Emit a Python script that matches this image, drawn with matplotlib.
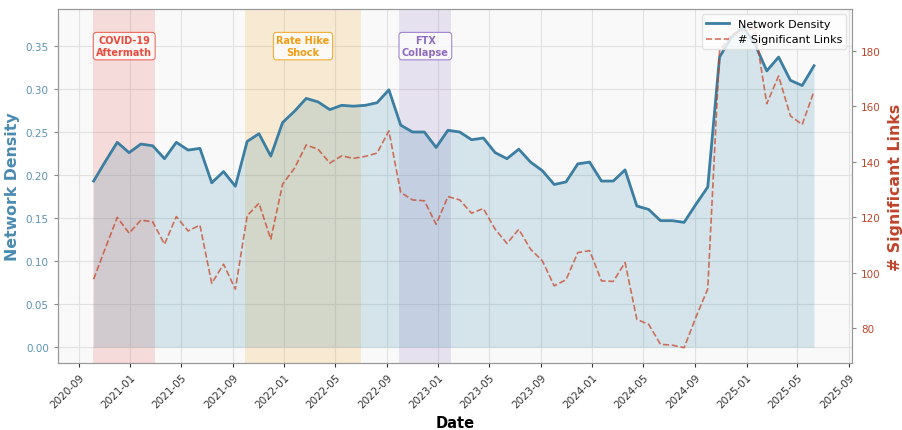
import numpy as np
import pandas as pd
import matplotlib
matplotlib.use("Agg")
import matplotlib.pyplot as plt
import matplotlib.dates as mdates

# 28-day windows
dates = pd.date_range("2020-10-06", periods=62, freq="28D")

density = [
    0.193, 0.216, 0.238, 0.226, 0.236, 0.234, 0.219, 0.238, 0.229, 0.231,
    0.191, 0.204, 0.187, 0.239, 0.248, 0.222, 0.261, 0.274, 0.289, 0.285,
    0.276, 0.281, 0.280, 0.281, 0.284, 0.299, 0.258, 0.250, 0.250, 0.232,
    0.252, 0.250, 0.241, 0.243, 0.226, 0.219, 0.230, 0.215, 0.205, 0.189,
    0.192, 0.213, 0.215, 0.193, 0.193, 0.206, 0.164, 0.160, 0.147, 0.147,
    0.145, 0.166, 0.186, 0.337, 0.360, 0.372, 0.352, 0.321, 0.337, 0.310,
    0.304, 0.327,
]
links = [
    97.7, 109.0, 120.0, 114.3, 119.0, 118.4, 110.3, 120.3, 115.1, 117.2,
    96.2, 103.1, 94.1, 120.6, 125.1, 112.1, 132.0, 137.7, 146.1, 144.6,
    139.6, 142.2, 141.3, 142.0, 143.2, 151.2, 129.0, 126.3, 126.0, 117.5,
    127.5, 126.3, 121.5, 123.2, 115.7, 110.6, 115.7, 108.5, 104.3, 95.3,
    97.5, 107.3, 108.0, 97.1, 96.9, 103.7, 83.2, 81.4, 74.2, 73.9,
    73.0, 84.0, 94.2, 180.0, 186.0, 187.5, 188.0, 161.0, 171.0, 156.6,
    153.5, 165.5,
]

event_labels = ["COVID-19\nAftermath", "Rate Hike\nShock", "FTX\nCollapse"]
event_starts = ["2020-10-05", "2021-10-01", "2022-10-01"]
event_ends = ["2021-03-01", "2022-07-01", "2023-02-01"]
event_colors = ["#e74c3c", "#f39c12", "#8e6bbf"]

blue = "#3b7ea1"
red = "#c0452b"

fig, ax = plt.subplots(figsize=(9.03, 4.31), dpi=100)
fig.subplots_adjust(left=0.064, right=0.9435, top=0.977, bottom=0.155)
ax.set_facecolor("#f9f9f9")

for lab, s, e, c in zip(event_labels, event_starts, event_ends, event_colors):
    s, e = pd.Timestamp(s), pd.Timestamp(e)
    ax.axvspan(s, e, color=c, alpha=0.17, lw=0, zorder=1)
    ax.text(s + (e - s) / 2, 0.895, lab, transform=ax.get_xaxis_transform(),
            ha="center", va="center", fontsize=7, fontweight="bold", color=c,
            bbox=dict(boxstyle="round,pad=0.3", fc="white", ec=c, alpha=0.8, lw=0.8),
            zorder=5)

ax.fill_between(dates, density, 0, color="#2E86AB", alpha=0.18, lw=0, zorder=2)
l1, = ax.plot(dates, density, color=blue, lw=2, label="Network Density", zorder=3)

ax2 = ax.twinx()
l2, = ax2.plot(dates, links, color="#C73E1D", lw=1.2, ls="--", alpha=0.7,
               label="# Significant Links")

ax.set_xlim(pd.Timestamp("2020-07-13"), pd.Timestamp("2025-09-08"))
ax.set_ylim(-0.0186, 0.393)
ax2.set_ylim(67.4, 195.2)
ax.set_yticks(np.arange(0, 0.36, 0.05))
ax2.set_yticks([80, 100, 120, 140, 160, 180])

ax.xaxis.set_major_locator(mdates.MonthLocator(bymonth=[1, 5, 9]))
ax.xaxis.set_major_formatter(mdates.DateFormatter("%Y-%m"))
plt.setp(ax.get_xticklabels(), rotation=45, ha="right", rotation_mode="anchor")

ax.grid(True, color="#e2e2e2", lw=0.8)
ax.set_axisbelow(True)

ax.tick_params(axis="x", labelsize=7.5, colors="#333333", length=3)
ax.tick_params(axis="y", labelsize=7.5, labelcolor="#5b92b4", color="#888888", length=3)
ax2.tick_params(axis="y", labelsize=7.5, labelcolor=red, color="#888888", length=3)

ax.set_xlabel("Date", fontsize=10.5, fontweight="bold")
ax.set_ylabel("Network Density", fontsize=11.3, fontweight="bold", color="#4a8bb0")
ax2.set_ylabel("# Significant Links", fontsize=11.3, fontweight="bold", color=red, labelpad=5)

for sp in list(ax.spines.values()) + list(ax2.spines.values()):
    sp.set_color("#999999")

ax2.legend([l1, l2], [l1.get_label(), l2.get_label()], loc="upper right",
           fontsize=8, framealpha=0.8, edgecolor="#dddddd")

fig.savefig("out.png", dpi=100)
